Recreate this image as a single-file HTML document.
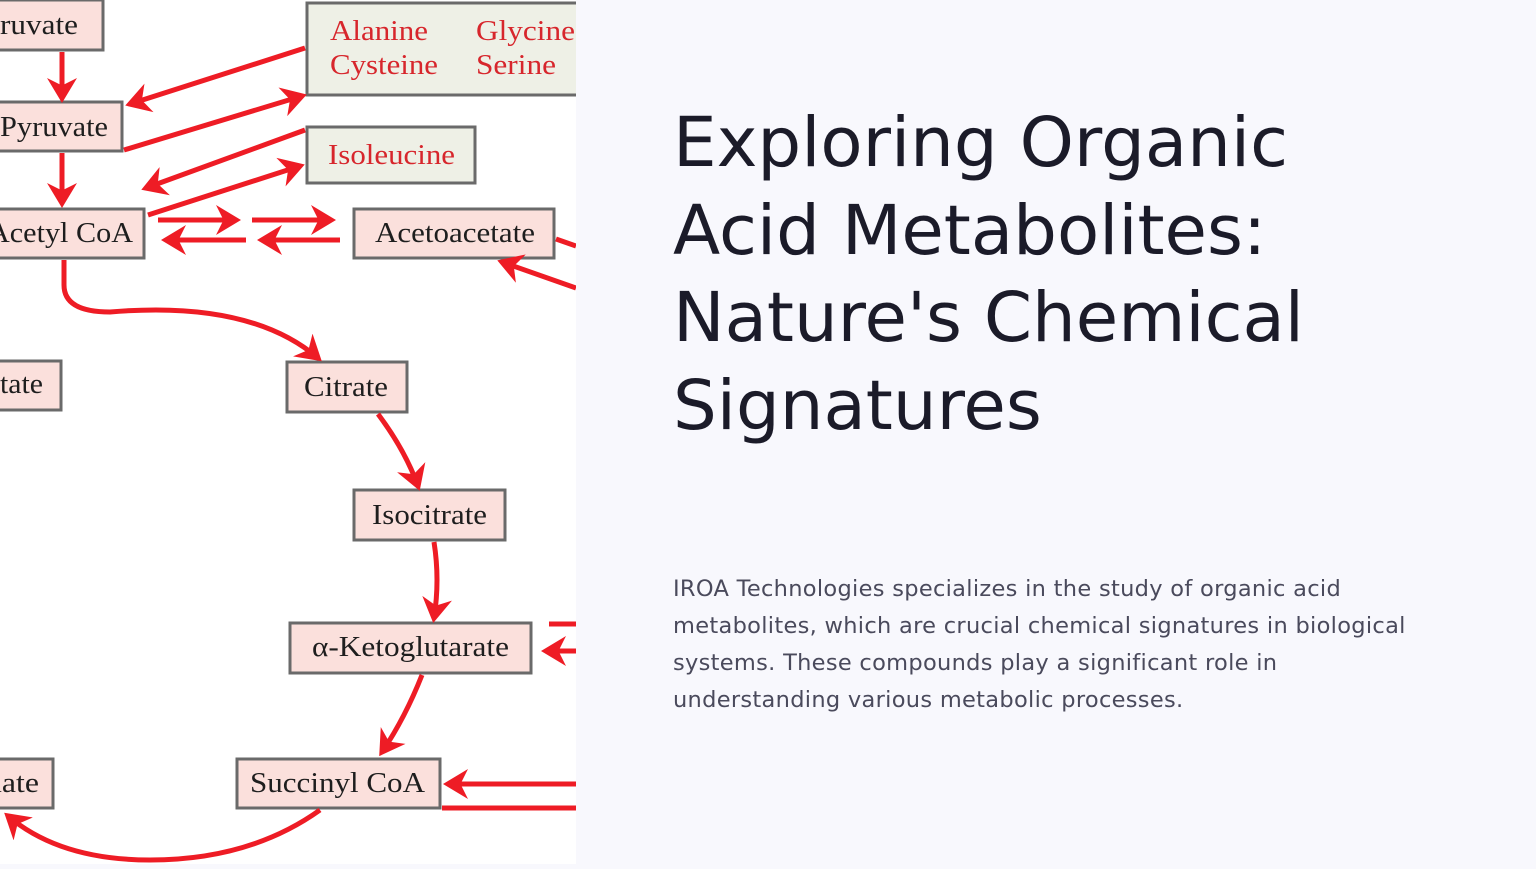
<!DOCTYPE html>
<html><head><meta charset="utf-8"><style>
html,body{margin:0;padding:0;width:1536px;height:864px;overflow:hidden;background:#f8f8fd;}
#l{position:absolute;left:0;top:0;width:576px;height:864px;background:#fff;}
#t{position:absolute;left:673px;top:100px;width:680px;font-family:"DejaVu Sans",sans-serif;font-size:69px;line-height:87.5px;color:#1b1b29;}
#p{position:absolute;left:673px;top:571px;width:760px;font-family:"DejaVu Sans",sans-serif;font-size:22.5px;line-height:37px;color:#4a4a5c;letter-spacing:0.3px}
</style></head><body>
<div id="l">
<svg width="576" height="864" viewBox="0 0 576 864" xmlns="http://www.w3.org/2000/svg">
<defs><marker id="a" markerWidth="6" markerHeight="6" refX="4" refY="3" orient="auto" markerUnits="strokeWidth"><path d="M0,0 L5,3 L0,6 L1.5,3 Z" fill="#ee1c25"/></marker></defs>
<g fill="#fbe0dc" stroke="#6a6a6a" stroke-width="3">
<rect x="-10" y="0" width="113" height="50"/>
<rect x="-10" y="102" width="132" height="49"/>
<rect x="-10" y="209" width="154" height="49"/>
<rect x="354" y="209" width="200" height="49"/>
<rect x="-10" y="361" width="71" height="49"/>
<rect x="287" y="362" width="120" height="50"/>
<rect x="354" y="490" width="151" height="50"/>
<rect x="290" y="623" width="241" height="50"/>
<rect x="237" y="759" width="203" height="49"/>
<rect x="-10" y="759" width="63" height="49"/>
</g>
<g fill="#eef0e6" stroke="#6a6a6a" stroke-width="3">
<rect x="307" y="3" width="280" height="92"/>
<rect x="307" y="127" width="168" height="56"/>
</g>
<g font-family="Liberation Serif,serif" font-size="29" fill="#1e1e1e">
<text x="0" y="34" textLength="78" lengthAdjust="spacingAndGlyphs">ruvate</text>
<text x="0" y="136" textLength="108" lengthAdjust="spacingAndGlyphs">Pyruvate</text>
<text x="-12" y="242" textLength="145" lengthAdjust="spacingAndGlyphs">Acetyl CoA</text>
<text x="375" y="242" textLength="160" lengthAdjust="spacingAndGlyphs">Acetoacetate</text>
<text x="0" y="393" textLength="43" lengthAdjust="spacingAndGlyphs">tate</text>
<text x="304" y="396" textLength="84" lengthAdjust="spacingAndGlyphs">Citrate</text>
<text x="372" y="524" textLength="115" lengthAdjust="spacingAndGlyphs">Isocitrate</text>
<text x="312" y="656" textLength="197" lengthAdjust="spacingAndGlyphs">α-Ketoglutarate</text>
<text x="250" y="792" textLength="175" lengthAdjust="spacingAndGlyphs">Succinyl CoA</text>
<text x="-14" y="792" textLength="53" lengthAdjust="spacingAndGlyphs">nate</text>
</g>
<g font-family="Liberation Serif,serif" font-size="29" fill="#d7262c">
<text x="330" y="40" textLength="98" lengthAdjust="spacingAndGlyphs">Alanine</text><text x="476" y="40" textLength="99" lengthAdjust="spacingAndGlyphs">Glycine</text>
<text x="330" y="74" textLength="108" lengthAdjust="spacingAndGlyphs">Cysteine</text><text x="476" y="74" textLength="80" lengthAdjust="spacingAndGlyphs">Serine</text>
<text x="328" y="164" textLength="127" lengthAdjust="spacingAndGlyphs">Isoleucine</text>
</g>
<g stroke="#ee1c25" stroke-width="5" fill="none" marker-end="url(#a)">
<path d="M62 52 V98"/>
<path d="M62 153 V203"/>
<path d="M305 48 L130 104"/>
<path d="M124 150 L302 96"/>
<path d="M305 130 L146 188"/>
<path d="M148 215 L300 166"/>
<path d="M158 220 H236"/><path d="M252 220 H331"/>
<path d="M246 240 H166"/><path d="M340 240 H262"/>
<path d="M576 288 L502 262"/>
<path d="M64 260 V285 Q64 312 110 312 Q250 300 318 358"/>
<path d="M378 414 Q405 450 418 486"/>
<path d="M434 542 Q440 580 434 618"/>
<path d="M422 675 Q405 718 382 752"/>
<path d="M576 784 H448"/>
<path d="M320 810 Q250 860 150 860 Q60 860 8 816"/>
<path d="M576 651 H546"/>
</g>
<g stroke="#ee1c25" stroke-width="5" fill="none">
<path d="M556 239 L576 246"/><path d="M549 624 H576"/><path d="M442 808 H576"/>
</g>
</svg>
</div>
<div id="t">Exploring Organic Acid Metabolites: Nature's Chemical Signatures</div>
<div id="p">IROA Technologies specializes in the study of organic acid metabolites, which are crucial chemical signatures in biological systems. These compounds play a significant role in understanding various metabolic processes.</div>
</body></html>
